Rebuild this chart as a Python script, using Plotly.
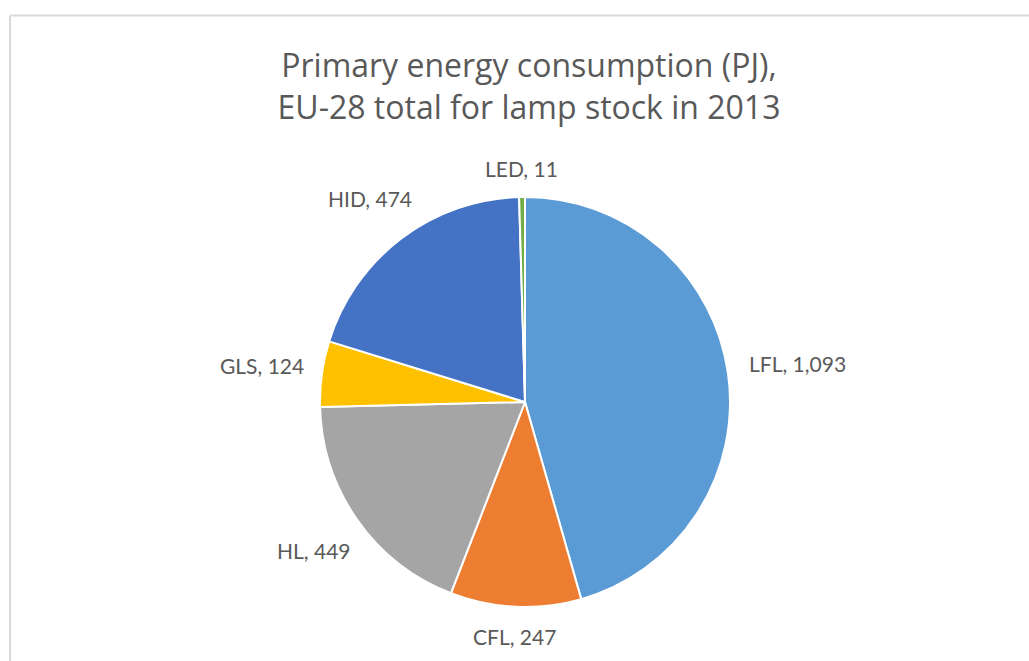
import math
import plotly.graph_objects as go

# Primary energy consumption by lamp type, EU-28 lamp stock, 2013 (PJ)
lamp_types = ["LFL", "CFL", "HL", "GLS", "HID", "LED"]
energy_pj = [1093, 247, 449, 124, 474, 11]
slice_colors = ["#5B9BD5", "#ED7D31", "#A5A5A5", "#FFC000", "#4472C4", "#70AD47"]

W, H = 1029, 661
cx, cy, r = 525, 402, 205  # pie centre and radius in pixels
label_font = dict(family="Lato", size=21, color="#595959")
text_grey = "#595959"

fig = go.Figure(
    go.Pie(
        labels=lamp_types,
        values=energy_pj,
        sort=False,
        direction="clockwise",
        rotation=0,
        marker=dict(colors=slice_colors, line=dict(color="white", width=2)),
        textinfo="none",
        showlegend=False,
        domain=dict(
            x=[(cx - r) / W, (cx + r) / W],
            y=[(H - cy - r) / H, (H - cy + r) / H],
        ),
        hoverinfo="label+value+percent",
    )
)

# Data labels sit just outside each slice, centred on the slice bisector
total = sum(energy_pj)
gap = 18
char_w = 0.49 * label_font["size"]
half_h = 10
annotations = []
cum = 0
for name, val in zip(lamp_types, energy_pj):
    mid = (cum + val / 2) / total * 2 * math.pi  # clockwise from 12 o'clock
    cum += val
    text = f"{name}, {val:,}"
    half_w = len(text) * char_w / 2
    s, c = math.sin(mid), math.cos(mid)
    dist = r + gap + abs(s) * half_w + abs(c) * half_h
    px = cx + dist * s
    py = cy - dist * c
    annotations.append(dict(
        text=text, x=px / W, y=1 - py / H, xref="paper", yref="paper",
        xanchor="center", yanchor="middle", showarrow=False, font=label_font,
    ))

frame = "#D9D9D9"
fig.update_layout(
    width=W,
    height=H,
    margin=dict(l=0, r=0, t=0, b=0),
    paper_bgcolor="white",
    plot_bgcolor="white",
    title=dict(
        text="Primary energy consumption (PJ),<br>EU-28 total for lamp stock in 2013",
        x=529 / W,
        xanchor="center",
        y=1 - 77 / H,
        yanchor="middle",
        yref="container",
        font=dict(family="Open Sans", size=32, color=text_grey),
    ),
    annotations=annotations,
    shapes=[
        dict(type="line", xref="paper", yref="paper",
             x0=10 / W, x1=1, y0=1 - 15.5 / H, y1=1 - 15.5 / H,
             line=dict(color=frame, width=2)),
        dict(type="line", xref="paper", yref="paper",
             x0=10 / W, x1=10 / W, y0=0, y1=1 - 15.5 / H,
             line=dict(color=frame, width=2)),
    ],
)

fig.write_html("out.html")
